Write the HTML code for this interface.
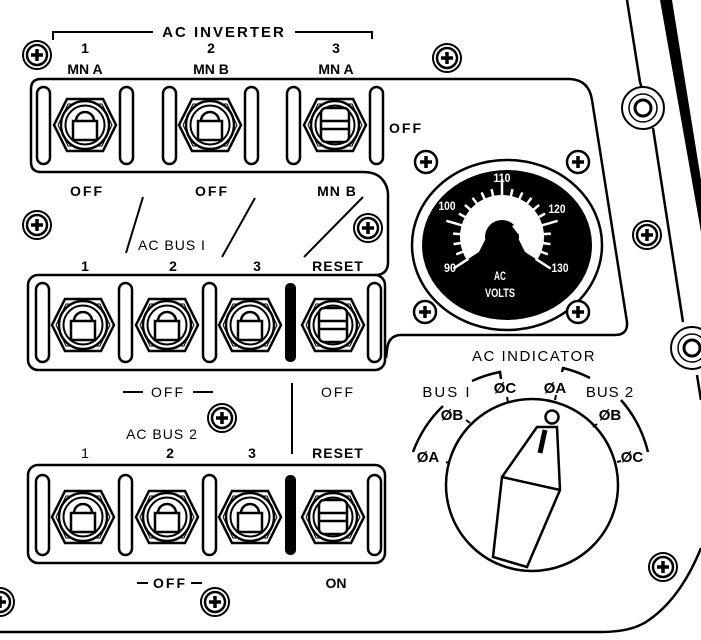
<!DOCTYPE html>
<html><head><meta charset="utf-8"><style>
html,body{margin:0;padding:0;background:#fff;}
svg{display:block;}
text{font-family:"Liberation Sans",sans-serif;fill:#000;}
.b{font-weight:bold;}
</style></head><body>
<svg width="701" height="640" viewBox="0 0 701 640" xmlns="http://www.w3.org/2000/svg">
<defs>
<g id="hex">
<polygon points="-31,0 -18,-26 18,-26 31,0 18,26 -18,26" fill="#fff" stroke="#000" stroke-width="2.5"/>
<polyline points="-27,0 -17,-21 17,-21 27,0 17,21 -17,21 -27,0" fill="none" stroke="#000" stroke-width="1"/>
<circle r="24" fill="#fff" stroke="#000" stroke-width="2.5"/>
<circle r="19.5" fill="none" stroke="#000" stroke-width="2"/>
</g>
<g id="tog">
<use href="#hex"/>
<path d="M-12,-4 L12,-4 L12,15 L-12,15 Z" fill="#fff" stroke="#000" stroke-width="2.5"/>
<path d="M-9,-4 A9,9 0 0 1 9,-4" fill="none" stroke="#000" stroke-width="2.5"/>
</g>
<g id="bar">
<use href="#hex"/>
<rect x="-14" y="-17" width="28" height="34" rx="5" fill="#fff" stroke="#000" stroke-width="2.5"/>
<line x1="-14" y1="-4" x2="14" y2="-4" stroke="#000" stroke-width="2.5"/>
<line x1="-14" y1="4" x2="14" y2="4" stroke="#000" stroke-width="2.5"/>
</g>
<g id="scr">
<circle r="14" fill="#fff" stroke="#000" stroke-width="2"/>
<circle r="10" fill="none" stroke="#000" stroke-width="2.5"/>
<path d="M-6,0 H6 M0,-6 V6" stroke="#000" stroke-width="3.5"/>
</g>
<g id="sscr">
<circle r="11" fill="#fff" stroke="#000" stroke-width="2.5"/>
<path d="M-6,0 H6 M0,-6 V6" stroke="#000" stroke-width="3.5"/>
</g>
<g id="big">
<circle r="21" fill="#fff" stroke="#000" stroke-width="2"/>
<circle r="14" fill="none" stroke="#000" stroke-width="1.5"/>
<circle r="8" fill="none" stroke="#000" stroke-width="3"/>
</g>
</defs>

<g fill="none" stroke="#000" stroke-width="2.5">
<path d="M627,0 L640,82 Q642,90 645,92"/>
<path d="M653,128 L683,322"/>
<path d="M697,375 L701,400"/>
<path d="M701,548 Q680,600 646,622 Q630,632 600,632 L0,632"/>
<path d="M41,79 L570,79 Q589,80 592,100 L627,322 Q628,335 615,335 L400,335 Q388,336 387,350 L386,358"/>
<path d="M41,79 Q31,79 31,89 L31,162 Q31,172 41,172 L363,172 Q375,172 381,178 Q388,185 388,195 L388,262 Q388,275 375,275"/>
<rect x="28" y="275" width="357" height="95" rx="10"/>
<rect x="28" y="465" width="357" height="98" rx="10"/>
</g>
<polygon points="660,0 672,0 701,180 701,232" fill="#000"/>

<g fill="#fff" stroke="#000" stroke-width="2.5">
<rect x="37" y="87" width="13" height="77" rx="6.5"/>
<rect x="120" y="87" width="13" height="77" rx="6.5"/>
<rect x="163" y="87" width="13" height="77" rx="6.5"/>
<rect x="245" y="87" width="13" height="77" rx="6.5"/>
<rect x="287" y="87" width="13" height="77" rx="6.5"/>
<rect x="370" y="87" width="13" height="77" rx="6.5"/>
<rect x="36" y="283" width="13" height="79" rx="6.5"/>
<rect x="119" y="283" width="13" height="79" rx="6.5"/>
<rect x="203" y="283" width="13" height="79" rx="6.5"/>
<rect x="368" y="283" width="13" height="79" rx="6.5"/>
<rect x="36" y="475" width="13" height="80" rx="6.5"/>
<rect x="119" y="475" width="13" height="80" rx="6.5"/>
<rect x="203" y="475" width="13" height="80" rx="6.5"/>
<rect x="368" y="475" width="13" height="80" rx="6.5"/>
</g>
<rect x="285" y="283" width="11" height="79" rx="5" fill="#000"/>
<rect x="285" y="475" width="11" height="80" rx="5" fill="#000"/>

<use href="#tog" x="85" y="125"/>
<use href="#tog" x="210" y="125"/>
<use href="#bar" x="335" y="125"/>
<use href="#tog" x="83" y="325"/>
<use href="#tog" x="167" y="325"/>
<use href="#tog" x="250" y="325"/>
<use href="#bar" x="333" y="325"/>
<use href="#tog" x="83" y="517"/>
<use href="#tog" x="167" y="517"/>
<use href="#tog" x="250" y="517"/>
<use href="#bar" x="333" y="517"/>

<use href="#scr" x="37" y="55"/>
<use href="#scr" x="447" y="58"/>
<use href="#scr" x="37" y="225"/>
<use href="#scr" x="368" y="228"/>
<use href="#scr" x="222" y="418"/>
<use href="#scr" x="215" y="602"/>
<use href="#scr" x="0" y="602"/>
<use href="#scr" x="647" y="235"/>
<use href="#scr" x="663" y="567"/>
<use href="#big" x="643" y="108"/>
<use href="#big" x="692" y="348"/>

<g stroke="#000" stroke-width="2" fill="none">
<path d="M53,40 V32 H153"/>
<path d="M295,32 H372 V39"/>
<line x1="143" y1="197" x2="126" y2="253"/>
<line x1="255" y1="198" x2="222" y2="257"/>
<line x1="363" y1="197" x2="304" y2="257"/>
<line x1="123" y1="392" x2="143" y2="392"/>
<line x1="193" y1="392" x2="213" y2="392"/>
<line x1="292" y1="383" x2="292" y2="454"/>
<line x1="137" y1="583" x2="148" y2="583"/>
<line x1="191" y1="583" x2="202" y2="583"/>
</g>
<g class="b" font-size="14" text-anchor="middle">
<text x="224" y="37" font-size="15" letter-spacing="2">AC INVERTER</text>
<text x="85" y="53">1</text><text x="85" y="74">MN A</text>
<text x="211" y="53">2</text><text x="211" y="74">MN B</text>
<text x="336" y="53">3</text><text x="336" y="74">MN A</text>
<text x="406" y="133" letter-spacing="2">OFF</text>
<text x="87" y="196" letter-spacing="2">OFF</text>
<text x="212" y="196" letter-spacing="2">OFF</text>
<text x="337" y="196" letter-spacing="1">MN B</text>
<text x="172" y="250" font-weight="normal" letter-spacing="1">AC BUS I</text>
<text x="85" y="271">1</text><text x="173" y="271">2</text><text x="257" y="271">3</text>
<text x="338" y="271" letter-spacing="1">RESET</text>
<text x="168" y="397" font-weight="normal" letter-spacing="2">OFF</text>
<text x="338" y="397" font-weight="normal" letter-spacing="2">OFF</text>
<text x="162" y="439" font-weight="normal" letter-spacing="1">AC BUS 2</text>
<text x="85" y="458" font-weight="normal">1</text><text x="170" y="458">2</text><text x="252" y="458">3</text>
<text x="338" y="458" letter-spacing="1">RESET</text>
<text x="170" y="588" letter-spacing="2">OFF</text>
<text x="336" y="588">ON</text>
</g>

<!-- gauge -->
<ellipse cx="507" cy="245" rx="95" ry="85" fill="#fff" stroke="#000" stroke-width="2.5"/>
<ellipse cx="507" cy="245" rx="85" ry="75" fill="#000"/>
<path d="M502,237 L466.8,259.9 A42,42 0 1 1 537.2,259.9 Z" fill="#fff"/>
<circle cx="502" cy="237" r="17" fill="#000"/>
<polygon points="485,240 519,240 530,262 474,262" fill="#000"/>
<g stroke="#fff" stroke-width="2.5" transform="translate(502,237)">
<line x1="0" y1="-40" x2="0" y2="-58" transform="rotate(-123)"/>
<line x1="0" y1="-40" x2="0" y2="-49" transform="rotate(-110.7)"/>
<line x1="0" y1="-40" x2="0" y2="-49" transform="rotate(-98.4)"/>
<line x1="0" y1="-40" x2="0" y2="-49" transform="rotate(-86.1)"/>
<line x1="0" y1="-40" x2="0" y2="-58" transform="rotate(-73.8)"/>
<line x1="0" y1="-40" x2="0" y2="-49" transform="rotate(-61.5)"/>
<line x1="0" y1="-40" x2="0" y2="-49" transform="rotate(-49.2)"/>
<line x1="0" y1="-40" x2="0" y2="-49" transform="rotate(-36.9)"/>
<line x1="0" y1="-40" x2="0" y2="-49" transform="rotate(-24.6)"/>
<line x1="0" y1="-40" x2="0" y2="-49" transform="rotate(-12.3)"/>
<line x1="0" y1="-40" x2="0" y2="-58" transform="rotate(0)"/>
<line x1="0" y1="-40" x2="0" y2="-49" transform="rotate(12.3)"/>
<line x1="0" y1="-40" x2="0" y2="-49" transform="rotate(24.6)"/>
<line x1="0" y1="-40" x2="0" y2="-49" transform="rotate(36.9)"/>
<line x1="0" y1="-40" x2="0" y2="-49" transform="rotate(49.2)"/>
<line x1="0" y1="-40" x2="0" y2="-49" transform="rotate(61.5)"/>
<line x1="0" y1="-40" x2="0" y2="-58" transform="rotate(73.8)"/>
<line x1="0" y1="-40" x2="0" y2="-49" transform="rotate(86.1)"/>
<line x1="0" y1="-40" x2="0" y2="-49" transform="rotate(98.4)"/>
<line x1="0" y1="-40" x2="0" y2="-49" transform="rotate(110.7)"/>
<line x1="0" y1="-40" x2="0" y2="-58" transform="rotate(123)"/>
</g>
<polygon points="512,226 518,234 530,218" fill="#fff"/>
<g class="b" font-size="12" text-anchor="middle">
<text x="502" y="182" style="fill:#fff" textLength="17" lengthAdjust="spacingAndGlyphs">110</text>
<text x="447" y="210" style="fill:#fff" textLength="17" lengthAdjust="spacingAndGlyphs">100</text>
<text x="557" y="213" style="fill:#fff" textLength="17" lengthAdjust="spacingAndGlyphs">120</text>
<text x="450" y="272" style="fill:#fff" textLength="12" lengthAdjust="spacingAndGlyphs">90</text>
<text x="560" y="272" style="fill:#fff" textLength="17" lengthAdjust="spacingAndGlyphs">130</text>
<text x="500" y="280" style="fill:#fff" textLength="12" lengthAdjust="spacingAndGlyphs">AC</text>
<text x="500" y="297" style="fill:#fff" textLength="30" lengthAdjust="spacingAndGlyphs">VOLTS</text>
</g>
<use href="#sscr" x="426" y="162"/>
<use href="#sscr" x="578" y="162"/>
<use href="#sscr" x="425" y="312"/>
<use href="#sscr" x="578" y="312"/>

<!-- AC indicator -->
<circle cx="532" cy="485" r="86" fill="#fff" stroke="#000" stroke-width="2.5"/>
<g fill="none" stroke="#000" stroke-width="2.5">
<path d="M413,452 A122,122 0 0 1 443,406"/>
<path d="M472,381 A122,122 0 0 1 500,372 L501,379"/>
<path d="M562,372 L563,368 A122,122 0 0 1 590,378"/>
<path d="M621,400 A122,122 0 0 1 648,452"/>
<path d="M449,463 L446,462 M470,423 L466,420 M508,402 L507,397 M555,400 L556,395 M593,427 L597,424 M617,462 L621,461" stroke-width="2"/>
<path d="M537,427 L557,427 L560,490 L527,567 L493,557 L502,477 Z" fill="#fff"/>
<line x1="502" y1="477" x2="560" y2="490"/>
<line x1="545" y1="430" x2="540" y2="453" stroke-width="5"/>
</g>
<circle cx="552" cy="417" r="6.5" fill="#fff" stroke="#000" stroke-width="2.5"/>
<g font-size="15" text-anchor="middle">
<text x="534" y="361" letter-spacing="1.5">AC INDICATOR</text>
<text x="447" y="397" letter-spacing="2">BUS I</text>
<text x="610" y="397" letter-spacing="1">BUS 2</text>
<text x="505" y="393" class="b">ØC</text>
<text x="555" y="393" class="b">ØA</text>
<text x="452" y="420" class="b">ØB</text>
<text x="610" y="420" class="b">ØB</text>
<text x="428" y="462" class="b">ØA</text>
<text x="632" y="462" class="b">ØC</text>
</g>
</svg>
</body></html>
